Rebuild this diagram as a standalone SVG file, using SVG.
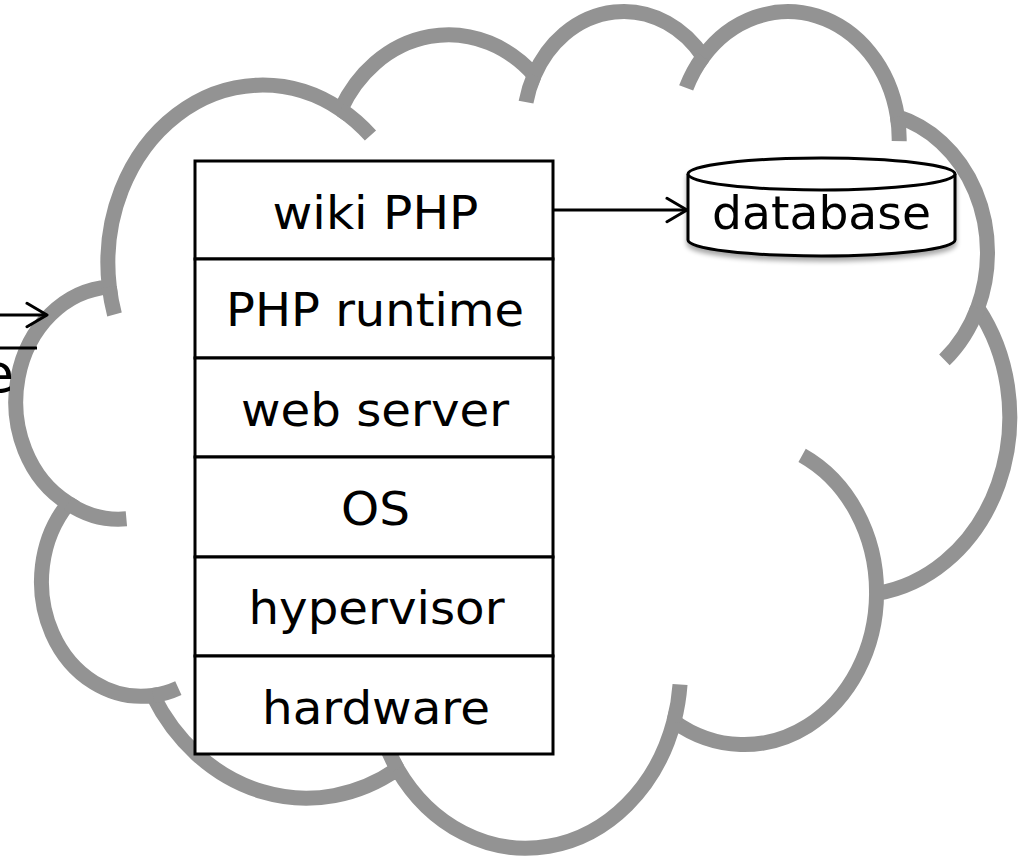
<svg xmlns="http://www.w3.org/2000/svg" width="1018" height="860" viewBox="0 0 1018 860">
<style>
.cloud{fill:none;stroke:#939393;stroke-width:15;stroke-linecap:butt;stroke-linejoin:miter}
.cell{fill:#fff;stroke:#000;stroke-width:3}
.lbl{font-family:"DejaVu Sans",Verdana,sans-serif;font-size:46px;fill:#000;text-anchor:middle}
.conn{fill:none;stroke:#000;stroke-width:3}
.db{fill:#fff;stroke:#000;stroke-width:3}
</style>
<defs>
<marker id="arr" markerUnits="userSpaceOnUse" markerWidth="26" markerHeight="28" viewBox="0 0 26 28" refX="22" refY="14" orient="auto">
<path d="M2,2.3 L22,14 L2,25.7" fill="none" stroke="#000" stroke-width="3" stroke-linecap="round" stroke-linejoin="round"/>
</marker>
<filter id="shadow" x="-10%" y="-20%" width="120%" height="150%">
<feGaussianBlur in="SourceAlpha" stdDeviation="2.5"/>
<feOffset dx="0" dy="4" result="b"/>
<feComponentTransfer><feFuncA type="linear" slope="0.35"/></feComponentTransfer>
<feMerge><feMergeNode/><feMergeNode in="SourceGraphic"/></feMerge>
</filter>
</defs>
<rect width="1018" height="860" fill="#fff"/>
<g id="cloud">
<path class="cloud" d="M109.31,287.00 A154.64,177.92 0 0,1 340.70,109.50 A122.13,140.69 0 0,1 534.24,75.20 A99.96,115.10 0 0,1 703.15,56.73 A111.23,127.68 0 0,1 897.44,116.67 A122.13,140.81 0 0,1 977.60,308.02 A155.15,178.50 0 0,1 876.57,593.53 A132.48,152.31 0 0,1 673.93,721.50 A154.62,178.40 0 0,1 397.41,768.97 A176.79,204.11 0 0,1 152.96,695.47 A99.84,114.57 0 0,1 68.39,503.42 A99.50,115.10 0 0,1 109.31,287.00 Z"/>
<path class="cloud" d="M126.39,518.84 A99.50,115.10 0 0,1 68.39,503.42 M178.34,688.08 A99.84,114.57 0 0,1 152.96,695.47 M397.41,768.97 A154.62,178.40 0 0,1 382.11,735.27 M680.04,684.54 A154.62,178.40 0 0,1 673.93,721.50 M802.11,455.38 A132.48,152.31 0 0,1 876.57,593.53 M977.60,308.02 A122.13,140.81 0 0,1 944.42,359.86 M897.44,116.67 A111.23,127.68 0 0,1 899.19,141.14 M686.16,87.93 A111.23,127.68 0 0,1 703.15,56.73 M526.02,102.11 A99.96,115.10 0 0,1 534.24,75.20 M340.70,109.50 A154.64,177.92 0 0,1 370.46,135.60 M114.51,314.48 A154.64,177.92 0 0,1 109.31,287.00"/>
</g>
<g id="stack">
<g id="node-wiki"><rect class="cell" x="195" y="161" width="358" height="98"/><text class="lbl" x="375.5" y="229" textLength="206" lengthAdjust="spacingAndGlyphs">wiki PHP</text></g>
<g id="node-runtime"><rect class="cell" x="195" y="259" width="358" height="99"/><text class="lbl" x="375" y="326" textLength="298" lengthAdjust="spacingAndGlyphs">PHP runtime</text></g>
<g id="node-webserver"><rect class="cell" x="195" y="358" width="358" height="99"/><text class="lbl" x="375" y="425.5" textLength="268" lengthAdjust="spacingAndGlyphs">web server</text></g>
<g id="node-os"><rect class="cell" x="195" y="457" width="358" height="100"/><text class="lbl" x="375.5" y="525" textLength="69" lengthAdjust="spacingAndGlyphs">OS</text></g>
<g id="node-hypervisor"><rect class="cell" x="195" y="557" width="358" height="99"/><text class="lbl" x="376.5" y="624" textLength="256" lengthAdjust="spacingAndGlyphs">hypervisor</text></g>
<g id="node-hardware"><rect class="cell" x="195" y="656" width="358" height="98"/><text class="lbl" x="376" y="724" textLength="228" lengthAdjust="spacingAndGlyphs">hardware</text></g>
</g>
<g id="node-database" filter="url(#shadow)">
<path class="db" d="M688,174 L688,240 A133.5,16 0 0,0 955,240 L955,174"/>
<ellipse class="db" cx="821.5" cy="174" rx="133.5" ry="16"/>
<text class="lbl" x="821.5" y="229" textLength="219" lengthAdjust="spacingAndGlyphs">database</text>
</g>
<g id="node-offscreen">
<text x="14" y="392" style="font-family:'DejaVu Sans',Verdana,sans-serif;font-size:54px;text-anchor:end">e</text>
</g>
<g id="connectors">
<line class="conn" x1="553" y1="210" x2="687" y2="210" marker-end="url(#arr)"/>
<line class="conn" x1="-5" y1="315" x2="47" y2="315" marker-end="url(#arr)"/>
<line class="conn" x1="-5" y1="348" x2="37" y2="348"/>
</g>
</svg>
